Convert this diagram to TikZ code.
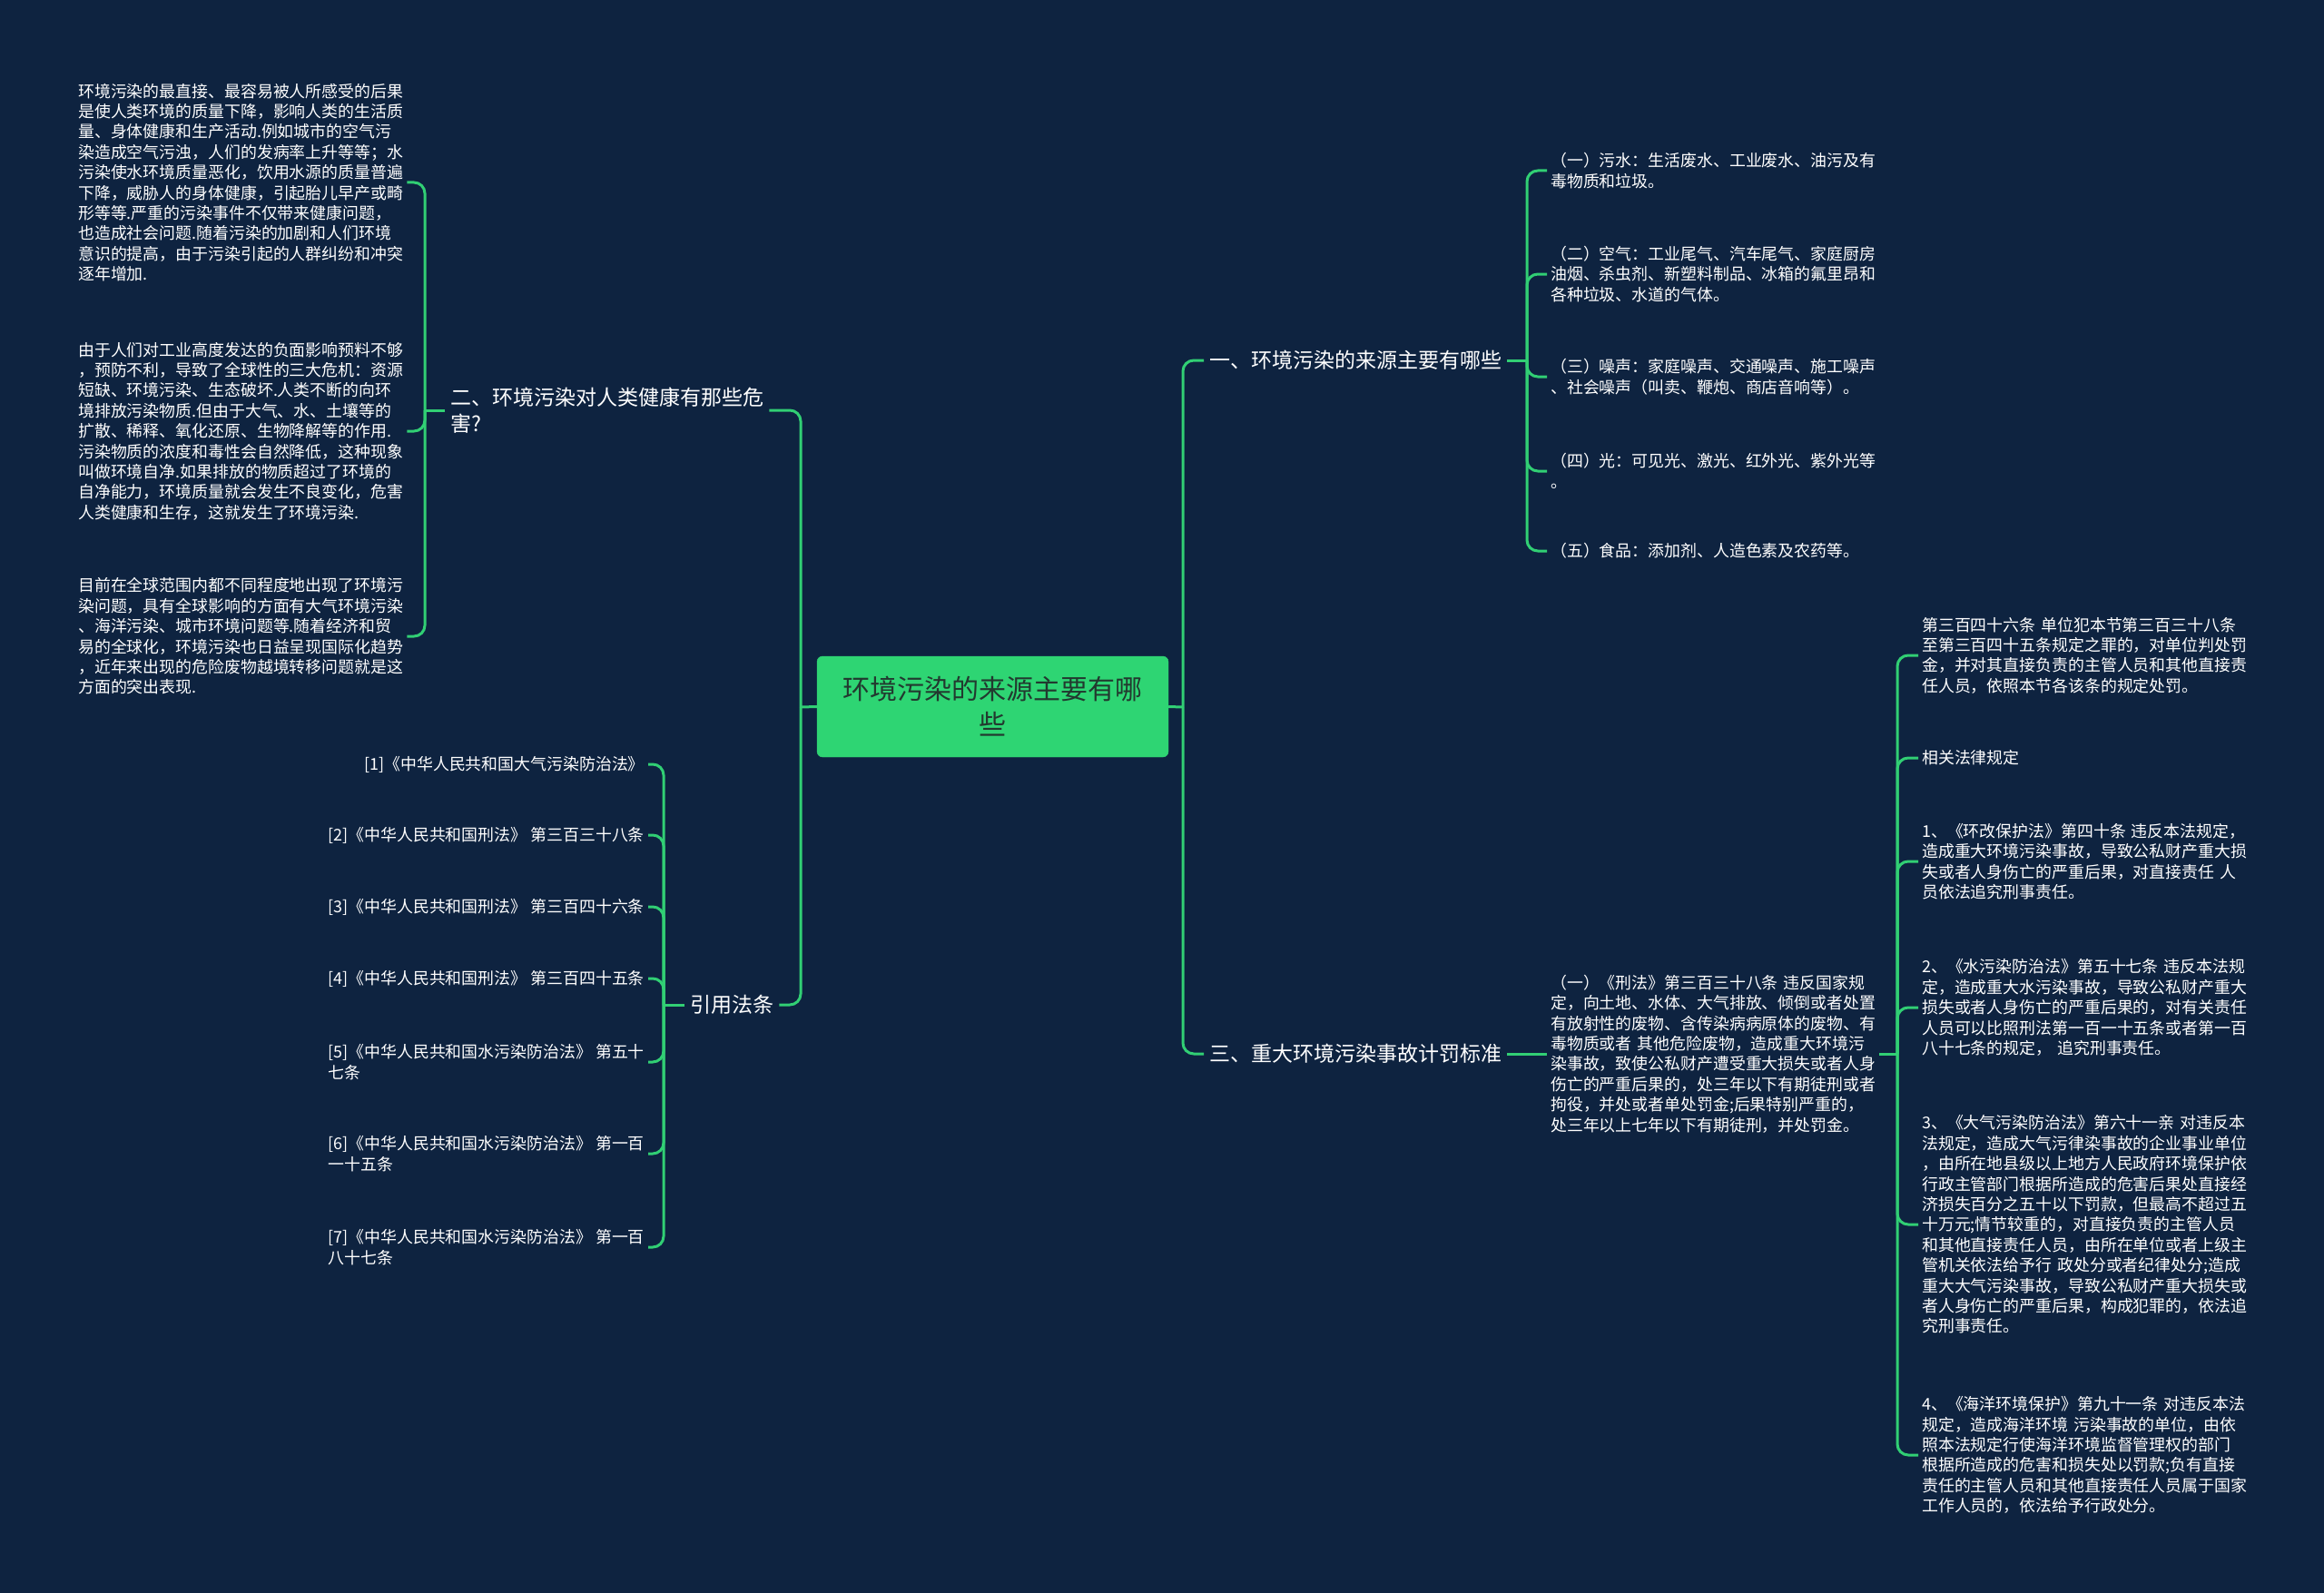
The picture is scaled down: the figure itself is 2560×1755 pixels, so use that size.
\documentclass[tikz,border=0pt]{standalone}
\usepackage{fontspec}
\usepackage{xcolor,tikz}
\usetikzlibrary{positioning}
\newfontfamily\cjk{Noto Sans CJK SC}
\definecolor{bgnavy}{HTML}{0E2340}
\definecolor{mint}{HTML}{31CF74}
\definecolor{mintfill}{HTML}{2ED573}
\definecolor{deep}{HTML}{22392F}
\tikzset{root/.style={fill=mintfill,draw=mint,rounded corners=6pt,align=center,text=deep,font={\cjk\fontsize{30pt}{39pt}\selectfont},minimum width=387pt,minimum height=111pt,inner sep=0pt}, branch/.style={align=left,text=white,font={\cjk\fontsize{23pt}{29pt}\selectfont},inner xsep=6pt,inner ysep=2pt}, leaf/.style={align=left,text=white,font={\cjk\fontsize{17.9pt}{22.4pt}\selectfont},text width=358pt,inner xsep=4pt,inner ysep=2pt}, ref/.style={align=left,text=white,font={\cjk\fontsize{17.9pt}{22.4pt}\selectfont},inner xsep=4pt,inner ysep=2pt}, link/.style={draw=mint,line width=3pt,rounded corners=12pt}}
\begin{document}
\begin{tikzpicture}[x=1pt,y=-1pt]
\fill[bgnavy] (0,0) rectangle (2560,1755);
\node[root] (root) at (1093.5,778.5){环境污染的来源主要有哪\\些};
% branches
\node[branch,anchor=west] (b1) at (1326,397){一、环境污染的来源主要有哪些};
\node[branch,anchor=west] (b3) at (1326,1161){三、重大环境污染事故计罚标准};
\node[branch,anchor=west] (b2) at (490,452){二、环境污染对人类健康有那些危\\害?};
\node[branch,anchor=west] (b4) at (754,1107){引用法条};
\coordinate (rj) at (1303,779);
\coordinate (lj) at (882,779);
\coordinate (j1) at (1682,397);
\coordinate (j2) at (468,452);
\coordinate (j3) at (2090,1161);
\coordinate (j4) at (731,1107);
% health
\node[leaf,anchor=west] (h1) at (82,201){环境污染的最直接、最容易被人所感受的后果\\是使人类环境的质量下降，影响人类的生活质\\量、身体健康和生产活动.例如城市的空气污\\染造成空气污浊，人们的发病率上升等等；水\\污染使水环境质量恶化，饮用水源的质量普遍\\下降，威胁人的身体健康，引起胎儿早产或畸\\形等等.严重的污染事件不仅带来健康问题，\\也造成社会问题.随着污染的加剧和人们环境\\意识的提高，由于污染引起的人群纠纷和冲突\\逐年增加.};
\node[leaf,anchor=west] (h2) at (82,475){由于人们对工业高度发达的负面影响预料不够\\，预防不利，导致了全球性的三大危机：资源\\短缺、环境污染、生态破坏.人类不断的向环\\境排放污染物质.但由于大气、水、土壤等的\\扩散、稀释、氧化还原、生物降解等的作用.\\污染物质的浓度和毒性会自然降低，这种现象\\叫做环境自净.如果排放的物质超过了环境的\\自净能力，环境质量就会发生不良变化，危害\\人类健康和生存，这就发生了环境污染.};
\node[leaf,anchor=west] (h3) at (82,701){目前在全球范围内都不同程度地出现了环境污\\染问题，具有全球影响的方面有大气环境污染\\、海洋污染、城市环境问题等.随着经济和贸\\易的全球化，环境污染也日益呈现国际化趋势\\，近年来出现的危险废物越境转移问题就是这\\方面的突出表现.};
% references
\node[ref,anchor=east] (r1) at (714,842){[1]《中华人民共和国大气污染防治法》};
\node[ref,anchor=east] (r2) at (714,920){[2]《中华人民共和国刑法》 第三百三十八条};
\node[ref,anchor=east] (r3) at (714,999){[3]《中华人民共和国刑法》 第三百四十六条};
\node[ref,anchor=east] (r4) at (714,1078){[4]《中华人民共和国刑法》 第三百四十五条};
\node[ref,anchor=east] (r5) at (714,1170){[5]《中华人民共和国水污染防治法》 第五十\\七条};
\node[ref,anchor=east] (r6) at (714,1271){[6]《中华人民共和国水污染防治法》 第一百\\一十五条};
\node[ref,anchor=east] (r7) at (714,1374){[7]《中华人民共和国水污染防治法》 第一百\\八十七条};
% sources
\node[leaf,anchor=west] (s1) at (1704,188){（一）污水：生活废水、工业废水、油污及有\\毒物质和垃圾。};
\node[leaf,anchor=west] (s2) at (1704,302){（二）空气：工业尾气、汽车尾气、家庭厨房\\油烟、杀虫剂、新塑料制品、冰箱的氟里昂和\\各种垃圾、水道的气体。};
\node[leaf,anchor=west] (s3) at (1704,415){（三）噪声：家庭噪声、交通噪声、施工噪声\\、社会噪声（叫卖、鞭炮、商店音响等）。};
\node[leaf,anchor=west] (s4) at (1704,519){（四）光：可见光、激光、红外光、紫外光等\\。};
\node[leaf,anchor=west] (s5) at (1704,607){（五）食品：添加剂、人造色素及农药等。};
% penalties
\node[leaf,anchor=west] (k1) at (1704,1161){（一）《刑法》第三百三十八条 违反国家规\\定，向土地、水体、大气排放、倾倒或者处置\\有放射性的废物、含传染病病原体的废物、有\\毒物质或者 其他危险废物，造成重大环境污\\染事故，致使公私财产遭受重大损失或者人身\\伤亡的严重后果的，处三年以下有期徒刑或者\\拘役，并处或者单处罚金;后果特别严重的，\\处三年以上七年以下有期徒刑，并处罚金。};
\node[leaf,anchor=west] (p1) at (2113,722){第三百四十六条 单位犯本节第三百三十八条\\至第三百四十五条规定之罪的，对单位判处罚\\金，并对其直接负责的主管人员和其他直接责\\任人员，依照本节各该条的规定处罚。};
\node[leaf,anchor=west] (p2) at (2113,835){相关法律规定};
\node[leaf,anchor=west] (p3) at (2113,949){1、《环改保护法》第四十条 违反本法规定，\\造成重大环境污染事故，导致公私财产重大损\\失或者人身伤亡的严重后果，对直接责任 人\\员依法追究刑事责任。};
\node[leaf,anchor=west] (p4) at (2113,1110){2、《水污染防治法》第五十七条 违反本法规\\定，造成重大水污染事故，导致公私财产重大\\损失或者人身伤亡的严重后果的，对有关责任\\人员可以比照刑法第一百一十五条或者第一百\\八十七条的规定， 追究刑事责任。};
\node[leaf,anchor=west] (p5) at (2113,1349){3、《大气污染防治法》第六十一亲 对违反本\\法规定，造成大气污律染事故的企业事业单位\\，由所在地县级以上地方人民政府环境保护依\\行政主管部门根据所造成的危害后果处直接经\\济损失百分之五十以下罚款，但最高不超过五\\十万元;情节较重的，对直接负责的主管人员\\和其他直接责任人员，由所在单位或者上级主\\管机关依法给予行 政处分或者纪律处分;造成\\重大大气污染事故，导致公私财产重大损失或\\者人身伤亡的严重后果，构成犯罪的，依法追\\究刑事责任。};
\node[leaf,anchor=west] (p6) at (2113,1603){4、《海洋环境保护》第九十一条 对违反本法\\规定，造成海洋环境 污染事故的单位，由依\\照本法规定行使海洋环境监督管理权的部门\\根据所造成的危害和损失处以罚款;负有直接\\责任的主管人员和其他直接责任人员属于国家\\工作人员的，依法给予行政处分。};
% links
\draw[link] (root.east)--(rj);
\draw[link] (rj)|-(b1.west);
\draw[link] (rj)|-(b3.west);
\draw[link] (root.west)--(lj);
\draw[link] (lj)|-(b2.east);
\draw[link] (lj)|-(b4.east);
\draw[link] (b1.east)--(j1);
\draw[link] (j1)|-(s1.west);
\draw[link] (j1)|-(s2.west);
\draw[link] (j1)|-(s3.west);
\draw[link] (j1)|-(s4.west);
\draw[link] (j1)|-(s5.west);
\draw[link] (b2.west)--(j2);
\draw[link] (j2)|-(h1.east);
\draw[link] (j2)|-(h2.east);
\draw[link] (j2)|-(h3.east);
\draw[link] (b4.west)--(j4);
\draw[link] (j4)|-(r1.east);
\draw[link] (j4)|-(r2.east);
\draw[link] (j4)|-(r3.east);
\draw[link] (j4)|-(r4.east);
\draw[link] (j4)|-(r5.east);
\draw[link] (j4)|-(r6.east);
\draw[link] (j4)|-(r7.east);
\draw[link] (b3.east)--(k1.west);
\draw[link] (k1.east)--(j3);
\draw[link] (j3)|-(p1.west);
\draw[link] (j3)|-(p2.west);
\draw[link] (j3)|-(p3.west);
\draw[link] (j3)|-(p4.west);
\draw[link] (j3)|-(p5.west);
\draw[link] (j3)|-(p6.west);
\end{tikzpicture}
\end{document}
